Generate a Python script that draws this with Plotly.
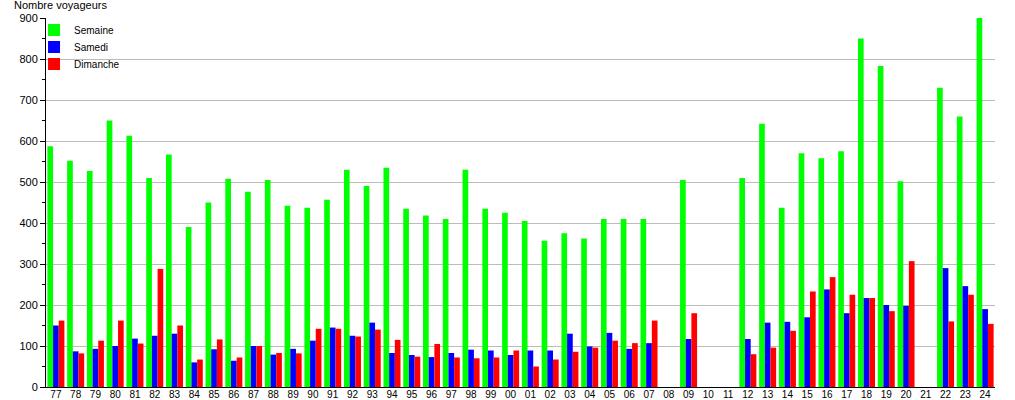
import plotly.graph_objects as go

years = ["77","78","79","80","81","82","83","84","85","86","87","88","89","90","91","92",
         "93","94","95","96","97","98","99","00","01","02","03","04","05","06","07","08",
         "09","10","11","12","13","14","15","16","17","18","19","20","21","22","23","24"]
semaine = [587,552,527,650,613,510,567,390,450,508,476,505,442,437,457,530,
           490,535,435,418,410,530,435,425,405,357,375,362,410,410,410,None,
           505,None,None,510,642,437,570,558,575,850,783,502,None,730,660,900]
samedi = [150,87,93,100,118,125,130,60,92,64,100,79,93,113,145,125,
          157,83,78,73,83,91,89,78,89,89,130,99,132,93,107,None,
          117,None,None,117,157,159,170,238,180,217,200,198,None,290,246,190]
dimanche = [162,82,113,162,106,288,150,67,116,72,100,83,82,142,142,123,
            140,115,74,105,72,70,72,89,50,67,86,96,113,107,162,None,
            180,None,None,80,96,137,233,268,225,217,185,307,None,160,225,154]

fig = go.Figure()
fig.add_trace(go.Bar(x=years, y=semaine, name="Semaine", legend="legend",
                     marker=dict(color="#00ff00", line_width=0)))
fig.add_trace(go.Bar(x=years, y=samedi, name="Samedi", legend="legend2",
                     marker=dict(color="#0000ff", line_width=0)))
fig.add_trace(go.Bar(x=years, y=dimanche, name="Dimanche", legend="legend3",
                     marker=dict(color="#ff0000", line_width=0)))

def leg(ycenter_px):
    return dict(x=-0.0126, y=(387 - ycenter_px) / 369, xanchor="left", yanchor="middle",
                bgcolor="rgba(255,255,255,0)", font=dict(size=10), itemsizing="constant")

fig.update_layout(
    width=1015, height=400,
    margin=dict(l=46, r=20, t=18, b=13),
    paper_bgcolor="white", plot_bgcolor="white",
    barmode="group", bargap=0.14, bargroupgap=0,
    font=dict(family="Liberation Sans, Arial, sans-serif", size=11, color="black"),
    showlegend=True,
    legend=leg(30), legend2=leg(47), legend3=leg(64),
    annotations=[dict(text="Nombre voyageurs", xref="paper", yref="paper", x=-0.0358, y=1.0,
                      xanchor="left", yanchor="bottom", showarrow=False, yshift=5,
                      font=dict(size=11))],
)
fig.update_xaxes(type="category", showline=True, linecolor="black", linewidth=1,
                 ticks="", showgrid=False, tickfont=dict(size=10), ticklen=0,
                 ticklabelstandoff=-2, automargin=False)
fig.update_yaxes(range=[0, 900], dtick=100, showline=True, linecolor="black", linewidth=1,
                 ticks="outside", ticklen=5, tickcolor="black",
                 minor=dict(dtick=50, ticks="outside", ticklen=3, tickcolor="black", showgrid=False),
                 showgrid=True, gridcolor="#bcbcbc", gridwidth=1, zeroline=False,
                 tickfont=dict(size=11), automargin=False)

fig.write_html("out.html", config={"displayModeBar": False},
               post_script="document.body.style.margin='0';")
